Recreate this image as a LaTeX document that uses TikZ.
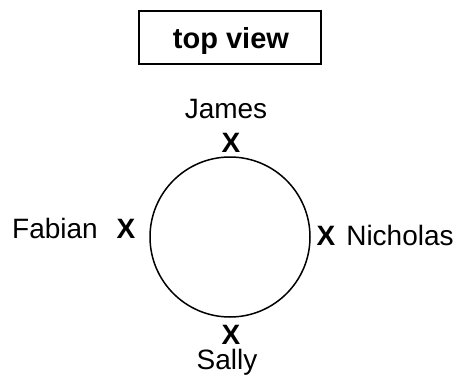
\documentclass[tikz,border=0pt]{standalone}
\usepackage{fontspec}
\setmainfont{Liberation Sans}
\begin{document}
\begin{tikzpicture}[x=1pt,y=1pt,
  lbl/.style={inner sep=0pt,anchor=base,font=\fontsize{28}{30}\selectfont},
  xmark/.style={inner sep=0pt,anchor=base,font=\fontsize{28}{30}\selectfont\bfseries}]
\useasboundingbox (0,0) rectangle (458,376);
\node[draw,line width=1.8pt,minimum width=182pt,minimum height=53pt,inner sep=0pt] (box) at (230,338.5) {};
\node[xmark,font=\fontsize{29}{30}\selectfont\bfseries] (title) at (231,327) {top view};
\draw[line width=1.5pt] (230,139) circle[radius=80];
\node[lbl] (james) at (226,258) {James};
\node[xmark] (xj) at (231,224) {X};
\node[lbl] (fabian) at (55,138) {Fabian};
\node[xmark] (xf) at (126,138) {X};
\node[xmark] (xn) at (326,131) {X};
\node[lbl] (nich) at (400,131) {Nicholas};
\node[xmark] (xs) at (231,32) {X};
\node[lbl] (sally) at (227,6.5) {Sally};
\end{tikzpicture}
\end{document}
